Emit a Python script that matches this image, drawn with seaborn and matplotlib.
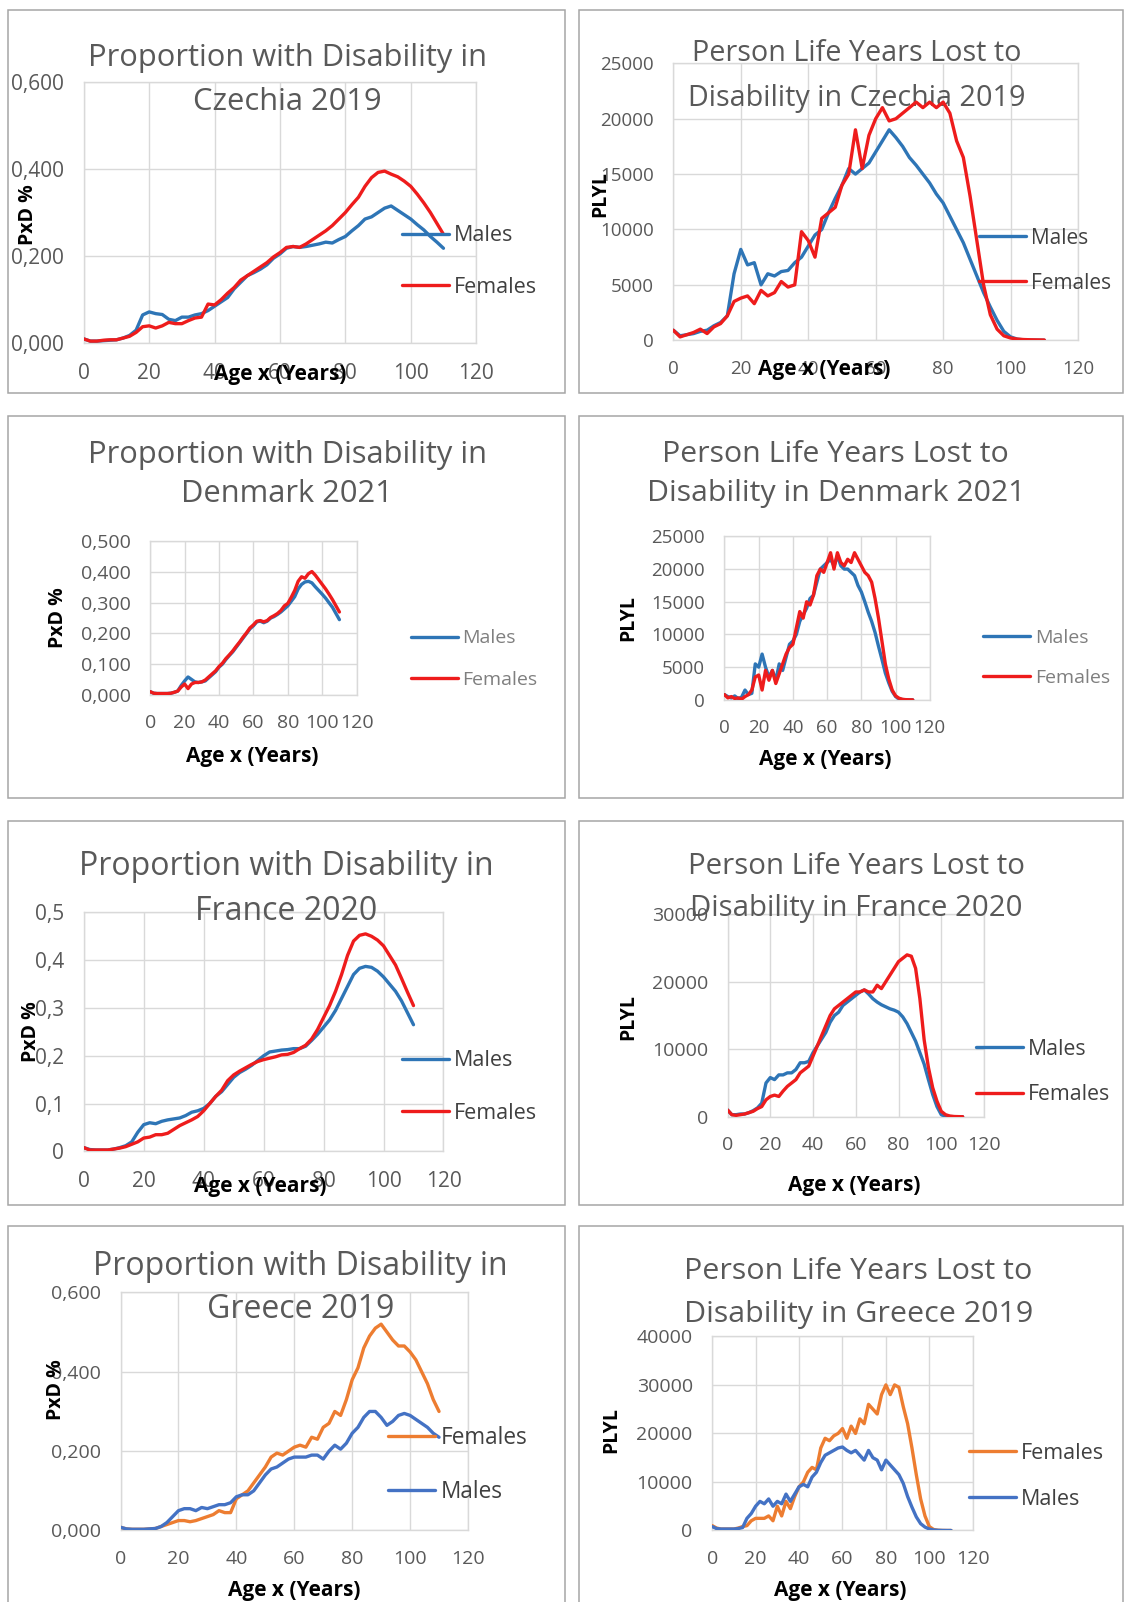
import matplotlib
matplotlib.use("Agg")
import matplotlib.pyplot as plt
from matplotlib.patches import Rectangle
import seaborn as sns

# ---------------------------------------------------------------- data
AGES = [0, 2, 4, 6, 8, 10, 12, 14, 16, 18,
        20, 22, 24, 26, 28, 30, 32, 34, 36, 38,
        40, 42, 44, 46, 48, 50, 52, 54, 56, 58,
        60, 62, 64, 66, 68, 70, 72, 74, 76, 78,
        80, 82, 84, 86, 88, 90, 92, 94, 96, 98,
        100, 102, 104, 106, 108, 110]

X_TICKS = [0, 20, 40, 60, 80, 100, 120]
X_TICK_LABELS = ["0", "20", "40", "60", "80", "100", "120"]

# Czechia 2019
CZ_PXD_M = [0.010, 0.005, 0.005, 0.006, 0.007, 0.008, 0.012, 0.018, 0.030, 0.065,
            0.072, 0.068, 0.066, 0.055, 0.052, 0.060, 0.060, 0.065, 0.068, 0.075,
            0.085, 0.095, 0.105, 0.125, 0.140, 0.155, 0.162, 0.170, 0.180, 0.195,
            0.205, 0.218, 0.222, 0.220, 0.222, 0.225, 0.228, 0.232, 0.230, 0.238,
            0.245, 0.258, 0.270, 0.285, 0.290, 0.300, 0.310, 0.315, 0.305, 0.295,
            0.285, 0.272, 0.260, 0.245, 0.232, 0.218]
CZ_PXD_F = [0.010, 0.005, 0.005, 0.007, 0.008, 0.008, 0.012, 0.016, 0.025, 0.038,
            0.040, 0.035, 0.040, 0.048, 0.045, 0.045, 0.052, 0.058, 0.060, 0.090,
            0.088, 0.100, 0.115, 0.128, 0.145, 0.155, 0.165, 0.175, 0.185, 0.198,
            0.208, 0.220, 0.222, 0.220, 0.228, 0.238, 0.248, 0.258, 0.270, 0.285,
            0.300, 0.318, 0.335, 0.360, 0.380, 0.392, 0.395, 0.388, 0.382, 0.372,
            0.360, 0.342, 0.322, 0.300, 0.275, 0.250]
CZ_PLYL_M = [900, 400, 500, 600, 800, 900, 1300, 1600, 2200, 6000,
             8200, 6800, 7000, 5000, 6000, 5800, 6200, 6300, 7000, 7500,
             8500, 9500, 10000, 11500, 12800, 14000, 15500, 15000, 15500, 16000,
             17000, 18000, 19000, 18300, 17500, 16500, 15800, 15000, 14200, 13200,
             12400, 11200, 10000, 8800, 7300, 5800, 4300, 3000, 1800, 800,
             300, 100, 30, 10, 5, 0]
CZ_PLYL_F = [900, 300, 500, 700, 1000, 600, 1200, 1500, 2200, 3500,
             3800, 4000, 3300, 4500, 4000, 4300, 5300, 4800, 5000, 9800,
             9000, 7500, 11000, 11500, 12000, 14000, 15000, 19000, 15500, 18500,
             20000, 21000, 19800, 20000, 20500, 21000, 21500, 21000, 21500, 21000,
             21500, 20500, 18000, 16500, 13000, 9000, 5000, 2300, 1000, 400,
             200, 100, 60, 40, 30, 20]

# Denmark 2021
DK_PXD_M = [0.010, 0.005, 0.004, 0.004, 0.004, 0.004, 0.005, 0.008, 0.012, 0.030,
            0.045, 0.058, 0.050, 0.042, 0.040, 0.042, 0.045, 0.055, 0.065, 0.075,
            0.090, 0.100, 0.115, 0.128, 0.140, 0.155, 0.170, 0.185, 0.200, 0.215,
            0.225, 0.238, 0.240, 0.235, 0.240, 0.250, 0.255, 0.262, 0.270, 0.280,
            0.290, 0.305, 0.320, 0.345, 0.360, 0.368, 0.370, 0.365, 0.352, 0.340,
            0.328, 0.315, 0.300, 0.285, 0.265, 0.245]
DK_PXD_F = [0.010, 0.005, 0.004, 0.004, 0.004, 0.004, 0.005, 0.008, 0.012, 0.025,
            0.035, 0.020, 0.035, 0.040, 0.040, 0.042, 0.048, 0.058, 0.068, 0.078,
            0.092, 0.103, 0.118, 0.130, 0.143, 0.158, 0.172, 0.188, 0.202, 0.218,
            0.228, 0.240, 0.242, 0.238, 0.242, 0.252, 0.258, 0.265, 0.275, 0.290,
            0.298, 0.318, 0.340, 0.370, 0.385, 0.380, 0.395, 0.402, 0.390, 0.375,
            0.360, 0.345, 0.328, 0.310, 0.290, 0.270]
DK_PLYL_M = [800, 500, 300, 600, 200, 400, 1500, 800, 1000, 5500,
             5000, 7000, 5000, 3500, 4500, 3000, 5500, 4500, 6500, 8500,
             9000, 10000, 12000, 13000, 14000, 15500, 16000, 18000, 20000, 20500,
             21000, 21500, 20500, 22000, 20500, 20000, 20000, 19500, 19000, 17500,
             16500, 15000, 13400, 12000, 10300, 8200, 6200, 4100, 2600, 1300,
             500, 150, 50, 10, 0, 0]
DK_PLYL_F = [800, 300, 500, 200, 300, 100, 500, 800, 1500, 3500,
             3800, 1500, 4500, 3000, 4500, 2500, 4000, 5500, 7000, 8000,
             8500, 11000, 13500, 12500, 15000, 14500, 16000, 19000, 20000, 19500,
             21000, 22500, 20000, 22500, 21000, 20500, 21500, 21000, 22500, 21500,
             20500, 19500, 19000, 18000, 15500, 12500, 9000, 5500, 3200, 1500,
             600, 250, 80, 30, 10, 0]

# France 2020
FR_PXD_M = [0.008, 0.004, 0.003, 0.003, 0.003, 0.005, 0.008, 0.012, 0.020, 0.040,
            0.056, 0.060, 0.058, 0.063, 0.066, 0.068, 0.070, 0.075, 0.082, 0.085,
            0.090, 0.100, 0.115, 0.125, 0.140, 0.155, 0.165, 0.172, 0.180, 0.190,
            0.200, 0.208, 0.210, 0.212, 0.213, 0.215, 0.215, 0.220, 0.232, 0.245,
            0.260, 0.275, 0.295, 0.320, 0.345, 0.370, 0.383, 0.387, 0.385, 0.377,
            0.365, 0.350, 0.335, 0.315, 0.290, 0.265]
FR_PXD_F = [0.008, 0.003, 0.003, 0.003, 0.003, 0.005, 0.007, 0.010, 0.015, 0.020,
            0.028, 0.030, 0.035, 0.035, 0.038, 0.046, 0.054, 0.060, 0.066, 0.073,
            0.085, 0.100, 0.115, 0.128, 0.148, 0.160, 0.168, 0.175, 0.182, 0.188,
            0.192, 0.195, 0.198, 0.202, 0.203, 0.207, 0.215, 0.222, 0.235, 0.255,
            0.280, 0.305, 0.335, 0.370, 0.410, 0.440, 0.452, 0.455, 0.450, 0.442,
            0.430, 0.410, 0.390, 0.362, 0.333, 0.305]
FR_PLYL_M = [1000, 300, 300, 400, 400, 600, 900, 1300, 2000, 5000,
             5800, 5500, 6200, 6200, 6500, 6500, 7000, 8000, 8000, 8200,
             9500, 10500, 11500, 12500, 14000, 15000, 15500, 16500, 17000, 17500,
             18000, 18500, 18800, 18200, 17500, 17000, 16600, 16300, 16000, 15800,
             15500, 14800, 13800, 12500, 11200, 9500, 7800, 5500, 3300, 1500,
             300, 80, 20, 5, 0, 0]
FR_PLYL_F = [1000, 300, 200, 300, 400, 600, 800, 1200, 1500, 2500,
             3000, 3200, 3000, 3800, 4500, 5000, 5500, 6500, 7000, 7500,
             9000, 10500, 12000, 13500, 15000, 16000, 16500, 17000, 17500, 18000,
             18500, 18500, 18800, 18500, 18500, 19500, 19000, 20000, 21000, 22000,
             23000, 23500, 24000, 23800, 22000, 17500, 11400, 7300, 4300, 2300,
             800, 300, 100, 30, 10, 0]

# Greece 2019
GR_PXD_F = [0.008, 0.004, 0.003, 0.003, 0.003, 0.004, 0.005, 0.010, 0.015, 0.020,
            0.025, 0.025, 0.022, 0.025, 0.030, 0.035, 0.040, 0.050, 0.045, 0.045,
            0.080, 0.090, 0.100, 0.120, 0.140, 0.160, 0.185, 0.195, 0.190, 0.200,
            0.210, 0.215, 0.210, 0.235, 0.230, 0.260, 0.270, 0.300, 0.290, 0.330,
            0.380, 0.410, 0.460, 0.490, 0.510, 0.520, 0.500, 0.480, 0.465, 0.465,
            0.450, 0.430, 0.400, 0.370, 0.330, 0.300]
GR_PXD_M = [0.008, 0.004, 0.003, 0.003, 0.003, 0.004, 0.005, 0.010, 0.020, 0.035,
            0.050, 0.055, 0.055, 0.050, 0.058, 0.055, 0.060, 0.065, 0.065, 0.070,
            0.085, 0.090, 0.090, 0.100, 0.120, 0.140, 0.155, 0.160, 0.170, 0.180,
            0.185, 0.185, 0.185, 0.190, 0.190, 0.180, 0.200, 0.215, 0.205, 0.220,
            0.245, 0.260, 0.285, 0.300, 0.300, 0.285, 0.265, 0.275, 0.290, 0.295,
            0.290, 0.280, 0.270, 0.260, 0.245, 0.235]
GR_PLYL_F = [1000, 500, 300, 300, 300, 300, 500, 800, 1000, 2000,
             2500, 2500, 2500, 3000, 2000, 5000, 3000, 6000, 4500, 7000,
             9000, 10000, 12000, 13000, 12500, 17000, 19000, 18500, 19500, 20000,
             21000, 19000, 21500, 20000, 23000, 22000, 26000, 25000, 24000, 28000,
             30000, 28000, 30000, 29500, 25500, 22000, 17000, 11500, 6500, 3000,
             800, 200, 50, 10, 0, 0]
GR_PLYL_M = [800, 400, 300, 300, 300, 300, 400, 600, 2500, 3500,
             5000, 6000, 5500, 6500, 5000, 6000, 5500, 7500, 6000, 7500,
             9000, 9500, 9000, 11000, 12000, 14000, 15500, 16000, 16500, 17000,
             17200, 16500, 16000, 16500, 15500, 14500, 16500, 15000, 14500, 12500,
             14500, 13500, 12500, 11500, 9700, 7000, 4800, 2800, 1400, 700,
             300, 100, 40, 10, 0, 0]

# ---------------------------------------------------------------- style
RED = "#EE1C1C"
BLUE = "#2E75B6"
ORANGE = "#ED7D31"
GREECE_BLUE = "#4472C4"
GRID = "#D9D9D9"
FRAME = "#A6A6A6"
TICK = "#595959"
TITLE = "#595959"

sns.set_style("white")
plt.rcParams["font.family"] = ["Open Sans", "DejaVu Sans"]

W, H = 1101.0, 1568.0  # layout grid, in page units

PXD_6 = ([0, 0.2, 0.4, 0.6], ["0,000", "0,200", "0,400", "0,600"])
PXD_5 = ([0, 0.1, 0.2, 0.3, 0.4, 0.5],
         ["0,000", "0,100", "0,200", "0,300", "0,400", "0,500"])
PXD_FR = ([0, 0.1, 0.2, 0.3, 0.4, 0.5], ["0", "0,1", "0,2", "0,3", "0,4", "0,5"])
PLYL_25 = ([0, 5000, 10000, 15000, 20000, 25000],
           ["0", "5000", "10000", "15000", "20000", "25000"])
PLYL_30 = ([0, 10000, 20000, 30000], ["0", "10000", "20000", "30000"])
PLYL_40 = ([0, 10000, 20000, 30000, 40000], ["0", "10000", "20000", "30000", "40000"])

PANELS = [
    dict(frame=(8, 10, 553, 385), axes=(82, 80, 466, 336), ticks=PXD_6,
         title=("Proportion with Disability in", "Czechia 2019"), title_xy=(281, 57, 100),
         title_fs=22.2,
         ylabel="PxD %", ylabel_xy=(27, 210), xlabel_xy=(274, 367),
         series=[("Males", CZ_PXD_M, BLUE), ("Females", CZ_PXD_F, RED)],
         legend_xy=(393, 256), legend_fs=15.5, legend_ls=1.4, tick_fs=15),
    dict(frame=(567, 10, 1099, 385), axes=(659, 62, 1055, 333), ticks=PLYL_25,
         title=("Person Life Years Lost to", "Disability in Czechia 2019"), title_xy=(838, 52, 96),
         title_fs=20.7,
         ylabel="PLYL", ylabel_xy=(587, 190), xlabel_xy=(807, 362),
         series=[("Males", CZ_PLYL_M, BLUE), ("Females", CZ_PLYL_F, RED)],
         legend_xy=(958, 255), legend_fs=15, legend_ls=1.15, tick_fs=13.5),
    dict(frame=(8, 407, 553, 781), axes=(147, 530, 349, 680), ticks=PXD_5,
         title=("Proportion with Disability in", "Denmark 2021"), title_xy=(281, 445, 484),
         title_fs=22.2,
         ylabel="PxD %", ylabel_xy=(57, 605), xlabel_xy=(247, 740),
         series=[("Males", DK_PXD_M, BLUE), ("Females", DK_PXD_F, RED)],
         legend_xy=(402, 645), legend_fs=14, legend_ls=1.2, tick_fs=14,
         legend_color="#7F7F7F"),
    dict(frame=(567, 407, 1099, 781), axes=(709, 525, 910, 685), ticks=PLYL_25,
         title=("Person Life Years Lost to", "Disability in Denmark 2021"), title_xy=(818, 445, 483),
         title_fs=21.8,
         ylabel="PLYL", ylabel_xy=(615, 605), xlabel_xy=(808, 743),
         series=[("Males", DK_PLYL_M, BLUE), ("Females", DK_PLYL_F, RED)],
         legend_xy=(962, 644), legend_fs=14, legend_ls=1.1, tick_fs=13.5,
         legend_color="#7F7F7F"),
    dict(frame=(8, 804, 553, 1179), axes=(82, 893, 434, 1127), ticks=PXD_FR,
         title=("Proportion with Disability in", "France 2020"), title_xy=(280, 848, 892),
         title_fs=23,
         ylabel="PxD %", ylabel_xy=(30, 1010), xlabel_xy=(255, 1161),
         series=[("Males", FR_PXD_M, BLUE), ("Females", FR_PXD_F, RED)],
         legend_xy=(393, 1064), legend_fs=15.5, legend_ls=1.45, tick_fs=15),
    dict(frame=(567, 804, 1099, 1179), axes=(712, 895, 963, 1093), ticks=PLYL_30,
         title=("Person Life Years Lost to", "Disability in France 2020"), title_xy=(838, 848, 889),
         title_fs=21.2,
         ylabel="PLYL", ylabel_xy=(615, 995), xlabel_xy=(836, 1160),
         series=[("Males", FR_PLYL_M, BLUE), ("Females", FR_PLYL_F, RED)],
         legend_xy=(955, 1049), legend_fs=15.3, legend_ls=1.15, tick_fs=14),
    dict(frame=(8, 1200, 553, 1580), axes=(118, 1265, 458, 1498), ticks=PXD_6,
         title=("Proportion with Disability in", "Greece 2019"), title_xy=(294, 1240, 1282),
         title_fs=23,
         ylabel="PxD %", ylabel_xy=(55, 1360), xlabel_xy=(288, 1557),
         series=[("Females", GR_PXD_F, ORANGE), ("Males", GR_PXD_M, GREECE_BLUE)],
         legend_xy=(380, 1434), legend_fs=16.3, legend_ls=1.3, tick_fs=14),
    dict(frame=(567, 1200, 1099, 1580), axes=(697, 1308, 952, 1498), ticks=PLYL_40,
         title=("Person Life Years Lost to", "Disability in Greece 2019"), title_xy=(840, 1245, 1287),
         title_fs=21.9,
         ylabel="PLYL", ylabel_xy=(598, 1400), xlabel_xy=(822, 1557),
         series=[("Females", GR_PLYL_F, ORANGE), ("Males", GR_PLYL_M, GREECE_BLUE)],
         legend_xy=(948, 1445), legend_fs=15.5, legend_ls=1.15, tick_fs=14),
]


def fx(x):
    return x / W


def fy(y):
    return 1.0 - y / H


fig = plt.figure(figsize=(11.25, 16.02), dpi=100)
fig.patch.set_facecolor("white")

for p in PANELS:
    x0, y0, x1, y1 = p["frame"]
    fig.add_artist(Rectangle((fx(x0), fy(y1)), (x1 - x0) / W, (y1 - y0) / H,
                             transform=fig.transFigure, fill=False,
                             edgecolor=FRAME, linewidth=1.1, zorder=0))

    a0, b0, a1, b1 = p["axes"]
    ax = fig.add_axes([fx(a0), fy(b1), (a1 - a0) / W, (b1 - b0) / H])
    ax.set_axisbelow(True)

    for name, vals, color in p["series"]:
        sns.lineplot(x=AGES, y=vals, ax=ax, color=color, linewidth=2.4,
                     label=name, zorder=4)

    yt, ytl = p["ticks"]
    ax.set_xlim(0, 120)
    ax.set_ylim(yt[0], yt[-1])
    ax.set_xticks(X_TICKS)
    ax.set_xticklabels(X_TICK_LABELS)
    ax.set_yticks(yt)
    ax.set_yticklabels(ytl)
    ax.set_xlabel("")
    ax.set_ylabel("")
    ax.grid(True, color=GRID, linewidth=1.0)
    for s in ax.spines.values():
        s.set_color(GRID)
        s.set_linewidth(1.0)
    ax.tick_params(axis="both", length=0, colors=TICK, labelsize=p["tick_fs"])
    ax.tick_params(axis="y", pad=14)
    ax.tick_params(axis="x", pad=14)

    tx, ty1, ty2 = p["title_xy"]
    for line, ty in zip(p["title"], (ty1, ty2)):
        ax.text(fx(tx), fy(ty), line, transform=fig.transFigure, ha="center",
                va="center", fontsize=p["title_fs"], color=TITLE, clip_on=False,
                zorder=3)

    lx, ly = p["ylabel_xy"]
    ax.text(fx(lx), fy(ly), p["ylabel"], transform=fig.transFigure, rotation=90,
            ha="center", va="center", fontsize=14, fontweight="bold",
            color="black", clip_on=False, zorder=3)
    xx, xy = p["xlabel_xy"]
    ax.text(fx(xx), fy(xy), "Age x (Years)", transform=fig.transFigure,
            ha="center", va="center", fontsize=15, fontweight="bold",
            color="black", clip_on=False, zorder=3)

    gx, gy = p["legend_xy"]
    fs = p["legend_fs"]
    handles, labels = ax.get_legend_handles_labels()
    leg = ax.legend(handles, labels, loc="center left",
                    bbox_to_anchor=(fx(gx), fy(gy)), bbox_transform=fig.transFigure,
                    frameon=False, fontsize=fs, handlelength=48 / (fs * 1.42),
                    handletextpad=0.25, labelspacing=p["legend_ls"],
                    borderpad=0, borderaxespad=0,
                    labelcolor=p.get("legend_color", "#404040"))
    leg.set_zorder(6)

fig.savefig("out.png", dpi=100, facecolor="white")
